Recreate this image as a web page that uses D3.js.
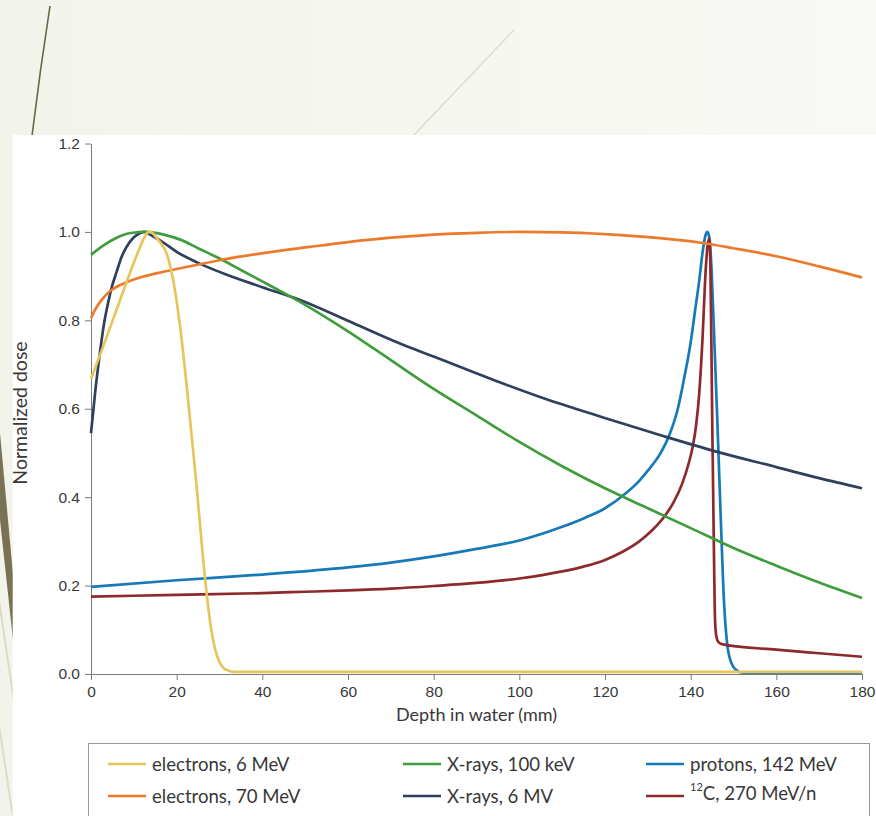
<!DOCTYPE html>
<html>
<head>
<meta charset="utf-8">
<script src="https://cdn.jsdelivr.net/npm/d3@7/dist/d3.min.js"></script>
<style>
body { margin: 0; background: #f5f7f0; }
svg { display: block; font-family: Lato, "Open Sans", sans-serif; }
.tick text { fill: #383838; font-size: 15.5px; }
.tick line, .domain { stroke: #7a7a7a; }
.axisLabel { fill: #383838; font-size: 18px; }
.legendText { fill: #383838; font-size: 18.6px; }
</style>
</head>
<body>
<script>

// Tick values on both axes
const depthTicks = [0, 20, 40, 60, 80, 100, 120, 140, 160, 180];
const doseTicks = [0, 0.2, 0.4, 0.6, 0.8, 1.0, 1.2];

// electrons, 6 MeV
const e6Depth = [0, 3, 6, 9, 11, 12.5, 13.5, 14.3, 15.2, 16.5, 17.7, 19.2, 20.8, 22.6, 24.5, 26.8, 28, 29, 30, 31, 32, 33, 40, 180];
const e6Dose  = [0.667, 0.745, 0.825, 0.905, 0.955, 0.988, 1.0, 0.998, 0.988, 0.972, 0.95, 0.89, 0.786, 0.627, 0.44, 0.2, 0.105, 0.055, 0.027, 0.013, 0.008, 0.005, 0.005, 0.005];

// electrons, 70 MeV
const e70Depth = [0, 1, 2, 3, 4.4, 6, 8.3, 12.2, 16, 20, 24, 30, 39.4, 51, 60, 70, 80, 90, 100, 110, 120, 132.9, 142, 150, 160, 170, 180];
const e70Dose  = [0.805, 0.825, 0.84, 0.852, 0.866, 0.876, 0.886, 0.899, 0.908, 0.916, 0.924, 0.936, 0.951, 0.966, 0.977, 0.987, 0.994, 0.998, 1.0, 0.999, 0.995, 0.986, 0.976, 0.963, 0.945, 0.922, 0.897];

// X-rays, 100 keV
const xkDepth = [0, 3, 6, 9, 13, 17, 21, 25, 30, 35, 40, 45, 50, 60, 70, 80, 90, 100, 110, 120, 130, 140, 150, 160, 170, 180];
const xkDose  = [0.948, 0.97, 0.987, 0.997, 1.0, 0.994, 0.982, 0.963, 0.94, 0.914, 0.888, 0.862, 0.835, 0.775, 0.71, 0.645, 0.585, 0.525, 0.47, 0.42, 0.375, 0.33, 0.285, 0.245, 0.207, 0.172];

// X-rays, 6 MV
const xmDepth = [0, 1, 2, 3, 4, 5, 6, 7, 8.3, 10, 11.4, 12.5, 14, 17, 20, 25, 31.7, 40, 48.8, 60, 72, 80, 94, 105, 119, 133, 146, 160, 170, 180];
const xmDose  = [0.545, 0.64, 0.72, 0.79, 0.84, 0.88, 0.91, 0.94, 0.966, 0.988, 0.997, 1.0, 0.993, 0.975, 0.955, 0.93, 0.903, 0.875, 0.846, 0.799, 0.748, 0.718, 0.665, 0.626, 0.582, 0.54, 0.503, 0.468, 0.443, 0.42];

// protons, 142 MeV
const pDepth = [0, 20, 40, 60, 70, 80, 90, 100, 110, 115, 120, 125, 128, 130, 133, 135, 137, 138.5, 140, 141, 142, 142.8, 143.4, 143.9, 144.4, 144.9, 145.5, 146.2, 147, 147.8, 148.5, 149.5, 150.5, 152, 180];
const pDose  = [0.197, 0.212, 0.225, 0.241, 0.252, 0.266, 0.283, 0.302, 0.333, 0.352, 0.375, 0.41, 0.437, 0.46, 0.5, 0.54, 0.6, 0.67, 0.75, 0.82, 0.89, 0.955, 0.99, 1.0, 0.985, 0.91, 0.76, 0.58, 0.36, 0.16, 0.07, 0.025, 0.01, 0.003, 0.003];

// 12C, 270 MeV/n
const cDepth = [0, 20, 40, 50, 60, 70, 80, 90, 100, 110, 115, 120, 124, 128, 131, 134, 136, 138, 139.5, 140.5, 141.3, 142, 142.8, 143.4, 143.9, 144.3, 144.6, 145, 145.4, 145.7, 146, 146.5, 147.5, 160, 170, 180];
const cDose  = [0.175, 0.179, 0.183, 0.186, 0.189, 0.193, 0.199, 0.206, 0.216, 0.232, 0.243, 0.258, 0.276, 0.3, 0.325, 0.358, 0.388, 0.43, 0.475, 0.515, 0.565, 0.635, 0.765, 0.895, 0.965, 0.985, 0.93, 0.6, 0.3, 0.12, 0.085, 0.072, 0.067, 0.055, 0.047, 0.039];

const seriesNames = ["electrons, 6 MeV", "electrons, 70 MeV", "X-rays, 100 keV", "X-rays, 6 MV", "protons, 142 MeV", "12C, 270 MeV/n"];
const seriesColors = ["#e6c65c", "#ec7a2c", "#3f9d3b", "#2f3f5e", "#167ab8", "#8e292c"];

const series = [
    { name: seriesNames[0], color: seriesColors[0], depth: e6Depth, dose: e6Dose },
    { name: seriesNames[1], color: seriesColors[1], depth: e70Depth, dose: e70Dose },
    { name: seriesNames[2], color: seriesColors[2], depth: xkDepth, dose: xkDose },
    { name: seriesNames[3], color: seriesColors[3], depth: xmDepth, dose: xmDose },
    { name: seriesNames[4], color: seriesColors[4], depth: pDepth, dose: pDose },
    { name: seriesNames[5], color: seriesColors[5], depth: cDepth, dose: cDose }
];

const width = 876, height = 816;
const margin = { left: 91, right: 14, top: 143.5, bottom: 142 };

const svg = d3.select("body")
    .append("svg")
    .attr("width", width)
    .attr("height", height);

// slide background behind the chart
const grad = svg.append("defs").append("linearGradient")
    .attr("id", "bg")
    .attr("x1", 0).attr("x2", 1).attr("y1", 0).attr("y2", 0);
grad.append("stop").attr("offset", 0).attr("stop-color", "#f2f4eb");
grad.append("stop").attr("offset", 1).attr("stop-color", "#f8f9f4");

svg.append("rect")
    .attr("width", width)
    .attr("height", height)
    .attr("fill", "url(#bg)");

svg.append("path")
    .attr("d", "M50,6 Q40,70 32,136")
    .attr("fill", "none")
    .attr("stroke", "#6b6448")
    .attr("stroke-width", 1.6);

svg.append("path")
    .attr("d", "M514,30 L413,136")
    .attr("stroke", "#d6d9cd")
    .attr("stroke-width", 1.2);

const shapes = [
    { pts: [[0, 433], [0, 520], [13, 640], [13, 574]], fill: "#7a7254" },
    { pts: [[0, 600], [0, 613], [13, 702], [13, 689]], fill: "#d9d9c6" },
    { pts: [[0, 725], [0, 738], [13, 824], [13, 811]], fill: "#dcdccb" }
];
svg.selectAll(".deco")
    .data(shapes)
    .enter()
    .append("polygon")
    .attr("class", "deco")
    .attr("points", d => d.pts.map(p => p.join(",")).join(" "))
    .attr("fill", d => d.fill);

// white chart panel
svg.append("rect")
    .attr("x", 12.7)
    .attr("y", 135)
    .attr("width", width - 12.7)
    .attr("height", height - 135)
    .attr("fill", "#ffffff");

// Scales
const x = d3.scaleLinear()
    .domain([0, 180])
    .range([margin.left, width - margin.right]);

const y = d3.scaleLinear()
    .domain([0, 1.2])
    .range([height - margin.bottom, margin.top]);

// bottom axis
svg.append("g")
    .attr("transform", "translate(0," + y(0) + ")")
    .call(d3.axisBottom(x)
        .tickValues(depthTicks)
        .tickSize(6)
        .tickSizeOuter(0)
        .tickPadding(6)
        .tickFormat(d3.format("d")))
    .call(g => g.selectAll("text").attr("font-family", null).attr("font-size", null));

// left axis
svg.append("g")
    .attr("transform", "translate(" + x(0) + ",0)")
    .call(d3.axisLeft(y)
        .tickValues(doseTicks)
        .tickSize(6)
        .tickSizeOuter(0)
        .tickPadding(5)
        .tickFormat(d3.format(".1f")))
    .call(g => g.selectAll("text").attr("font-family", null).attr("font-size", null));

svg.selectAll(".tick line, .domain").attr("stroke", "#7a7a7a");

// axis labels
svg.append("text")
    .attr("class", "axisLabel")
    .attr("x", (x(0) + x(180)) / 2)
    .attr("y", 721)
    .attr("text-anchor", "middle")
    .text("Depth in water (mm)");

svg.append("text")
    .attr("class", "axisLabel")
    .attr("transform", "translate(27,413) rotate(-90)")
    .attr("text-anchor", "middle")
    .style("font-size", "19.5px")
    .text("Normalized dose");

// curves
const line = d3.line()
    .x(d => x(d[0]))
    .y(d => y(d[1]))
    .curve(d3.curveMonotoneX);

const drawOrder = [4, 5, 3, 2, 1, 0];
svg.selectAll(".curve")
    .data(drawOrder.map(i => series[i]))
    .enter()
    .append("path")
    .attr("class", "curve")
    .attr("d", d => line(d.depth.map((v, i) => [v, d.dose[i]])))
    .attr("fill", "none")
    .attr("stroke", d => d.color)
    .attr("stroke-width", 2.7)
    .attr("stroke-linejoin", "round");

// legend
svg.append("rect")
    .attr("x", 88.5)
    .attr("y", 743.5)
    .attr("width", 781)
    .attr("height", 100)
    .attr("fill", "#ffffff")
    .attr("stroke", "#9a9a9a");

const legendCols = [108, 403, 646];
const legendRows = [764, 796];

const legend = svg.selectAll(".legendItem")
    .data(series)
    .enter()
    .append("g")
    .attr("class", "legendItem")
    .attr("transform", (d, i) => "translate(" + legendCols[Math.floor(i / 2)] + "," + legendRows[i % 2] + ")");

legend.append("line")
    .attr("x1", 0)
    .attr("x2", 38)
    .attr("stroke", d => d.color)
    .attr("stroke-width", 2.7);

legend.append("text")
    .attr("class", "legendText")
    .attr("x", 44)
    .attr("dy", "0.35em")
    .each(function(d) {
        const t = d3.select(this);
        if (d.name.startsWith("12C")) {
            t.append("tspan").attr("font-size", 11).attr("dy", "-0.5em").text("12");
            t.append("tspan").attr("dy", "0.5em").text(d.name.slice(2));
        } else {
            t.text(d.name);
        }
    });

</script>
</body>
</html>
